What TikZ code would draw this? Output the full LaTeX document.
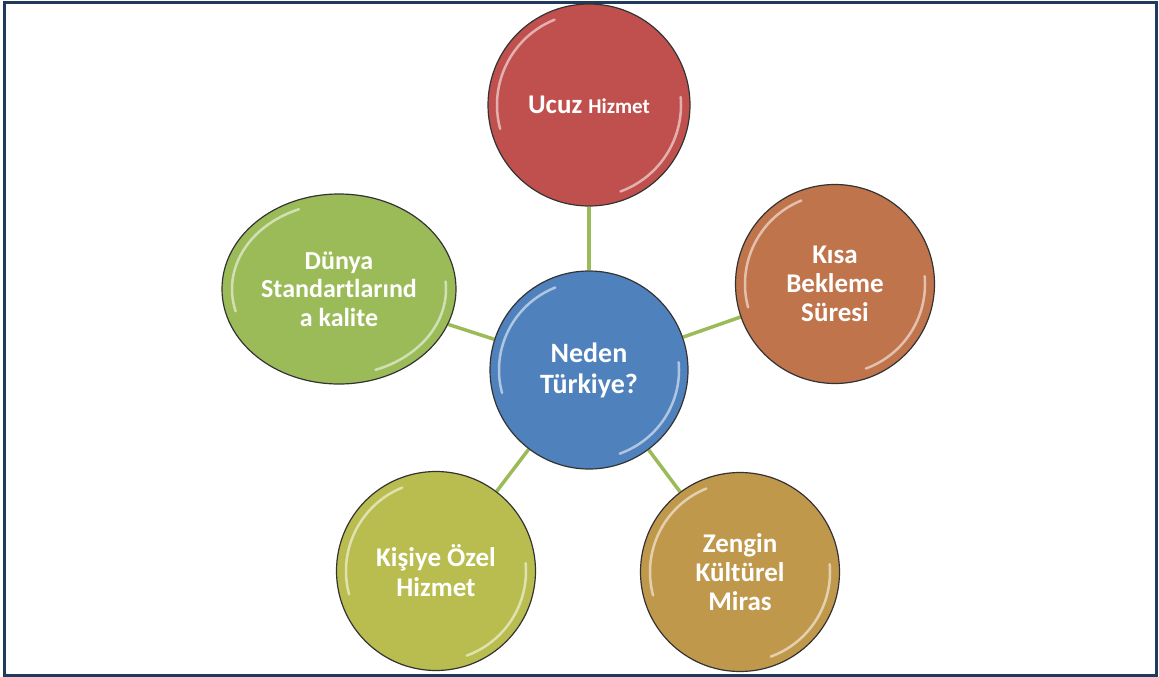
\documentclass[tikz,border=0pt]{standalone}
\usepackage{fontspec}
\setmainfont{Carlito}
\usetikzlibrary{shapes.geometric,backgrounds}
\definecolor{cred}{HTML}{C0504D}
\definecolor{corange}{HTML}{C0744C}
\definecolor{cgold}{HTML}{C0984C}
\definecolor{cyell}{HTML}{B9BD4F}
\definecolor{cgreen}{HTML}{9BBB59}
\definecolor{cblue}{HTML}{4F81BD}
\definecolor{cframe}{HTML}{1F3A5C}
\definecolor{clink}{HTML}{9BBB59}
\tikzset{
  ball/.style={circle, draw=black!80, line width=1.2pt, minimum size=#1, inner sep=0pt,
    text=white, font=\fontsize{27}{30}\selectfont\bfseries, align=center},
  link/.style={draw=clink, line width=3.5pt},
  gloss/.style={white, line width=2.5pt, opacity=0.55, line cap=round},
}
\newcommand{\glossy}[3]{%
  \draw[gloss] ([shift={(#1.center)}]112:#2 and #3) arc[start angle=112,end angle=195,x radius=#2,y radius=#3];
  \draw[gloss] ([shift={(#1.center)}]-70:#2 and #3) arc[start angle=-70,end angle=5,x radius=#2,y radius=#3];
}
\begin{document}
\begin{tikzpicture}[x=1pt,y=1pt]
\useasboundingbox (0,0) rectangle (1159,-677);
\draw[cframe, line width=3pt] (4,-3) rectangle (1156,-675);
\node[ball=198pt, fill=cblue, font=\fontsize{28}{31}\selectfont\bfseries] (c) at (589,-370) {Neden\\Türkiye?};
\node[ball=202pt, fill=cred] (t) at (589,-105) {{\fontsize{27}{30}\selectfont Ucuz} {\fontsize{21}{30}\selectfont Hizmet}};
\node[ball=199pt, fill=corange, font=\fontsize{27}{29}\selectfont\bfseries] (r) at (835,-284) {Kısa\\Bekleme\\Süresi};
\node[ball=199pt, fill=cgold, font=\fontsize{27}{29}\selectfont\bfseries] (br) at (740,-572) {Zengin\\Kültürel\\Miras};
\node[ball=199pt, fill=cyell] (bl) at (436,-571) {Kişiye Özel\\Hizmet};
\node[ellipse, draw=black!80, line width=1.2pt, minimum width=234pt, minimum height=190pt, inner sep=0pt,
  fill=cgreen, text=white, font=\fontsize{26}{28.5}\selectfont\bfseries, align=center] (l) at (339,-289) {Dünya\\Standartlarınd\\a kalite};
\begin{scope}[on background layer]
  \draw[link] (c) -- (t);
  \draw[link] (c) -- (r);
  \draw[link] (c) -- (br);
  \draw[link] (c) -- (bl);
  \draw[link] (c) -- (l);
\end{scope}
\glossy{c}{90}{89}
\glossy{t}{92}{92}
\glossy{r}{90}{90}
\glossy{br}{90}{90}
\glossy{bl}{90}{90}
\glossy{l}{107}{86}
\end{tikzpicture}
\end{document}
